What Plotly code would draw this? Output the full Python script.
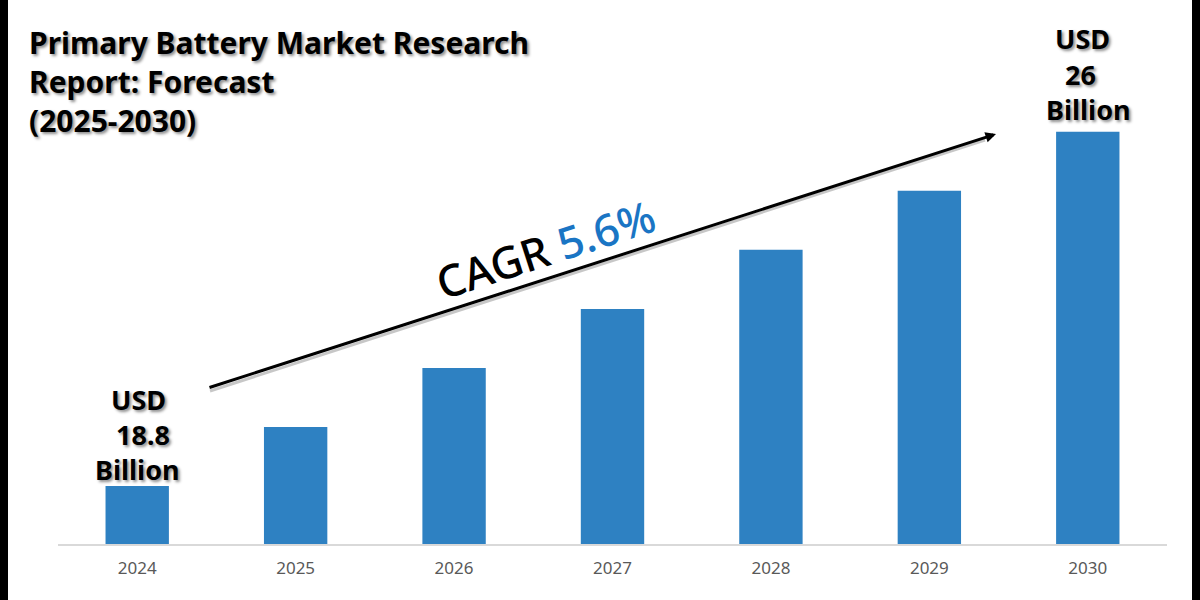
import plotly.graph_objects as go

years = ['2024', '2025', '2026', '2027', '2028', '2029', '2030']
market_size = [18.8, 20.0, 21.2, 22.4, 23.6, 24.8, 26.0]
title_lines = ['Primary Battery Market Research', 'Report: Forecast', '(2025-2030)']

W, H = 1184, 600      # the black side strips are the page's own 8px margins
EDGE = 8
M_L, M_R, M_T, M_B = 50, 25, 60, 56
FONT = 'Noto Sans'
BLUE = '#2e81c2'
SHADOW = '2px 2px 3px rgba(0,0,0,0.45)'


# paper coordinates span the plot area, so convert from image pixels
def px(x):
    return (x - EDGE - M_L) / (W - M_L - M_R)


def py(y):
    return (H - M_B - y) / (H - M_T - M_B)


fig = go.Figure()
fig.add_trace(go.Bar(x=years, y=market_size, marker=dict(color=BLUE, line=dict(width=0)), showlegend=False))

# ── title and value labels ────────────────────────────────────────────────
annotations = [dict(
    x=px(27), y=py(81), xref='paper', yref='paper', xanchor='left', yanchor='middle',
    text='<br>'.join(title_lines), align='left', showarrow=False,
    font=dict(family=FONT, size=30, color='black', weight='bold', shadow=SHADOW),
)]
label_lines = [
    ('USD', 138, 399), ('18.8', 143, 434), ('Billion', 137, 469),
    ('USD', 1082, 39), ('26', 1080, 74), ('Billion', 1088, 109),
]
for text, x, y in label_lines:
    annotations.append(dict(
        x=px(x), y=py(y), xref='paper', yref='paper', xanchor='center', yanchor='middle',
        text=text, showarrow=False,
        font=dict(family=FONT, size=27, color='black', weight='bold', shadow=SHADOW),
    ))

# ── growth arrow and CAGR text ────────────────────────────────────────────
annotations.append(dict(
    x=px(996), y=py(134), ax=-788, ay=254,
    xref='paper', yref='paper', text='',
    showarrow=True, arrowhead=2, arrowsize=0.7, arrowwidth=3, arrowcolor='black',
))
annotations.append(dict(
    x=px(545), y=py(249), xref='paper', yref='paper', xanchor='center', yanchor='middle',
    showarrow=False, textangle=-18,
    text='CAGR <span style="color:#1a75c4">5.6%</span>',
    font=dict(family=FONT, size=44, color='black', weight=500),
))

# soft shadow under the arrow
shapes = [
    dict(type='line', xref='paper', yref='paper', x0=px(210), y0=py(391), x1=px(985), y1=py(140),
         line=dict(color='rgba(0,0,0,0.22)', width=3), layer='below'),
]

fig.update_layout(
    width=W, height=H,
    margin=dict(l=M_L, r=M_R, t=M_T, b=M_B, autoexpand=False),
    paper_bgcolor='white', plot_bgcolor='white',
    bargap=0.6,
    annotations=annotations, shapes=shapes,
    xaxis=dict(type='category', showline=True, linecolor='#d9d9d9', linewidth=2, ticks='',
               tickfont=dict(family=FONT, size=17, color='#595959'), ticklabelstandoff=8),
    yaxis=dict(range=[17.62, 27.46], visible=False),
)

page_style = (
    "document.body.style.margin = '0 8px';"
    "document.body.style.background = 'black';"
    "document.documentElement.style.overflow = 'hidden';"
)
fig.write_html('out.html', config={'displayModeBar': False}, post_script=page_style)
